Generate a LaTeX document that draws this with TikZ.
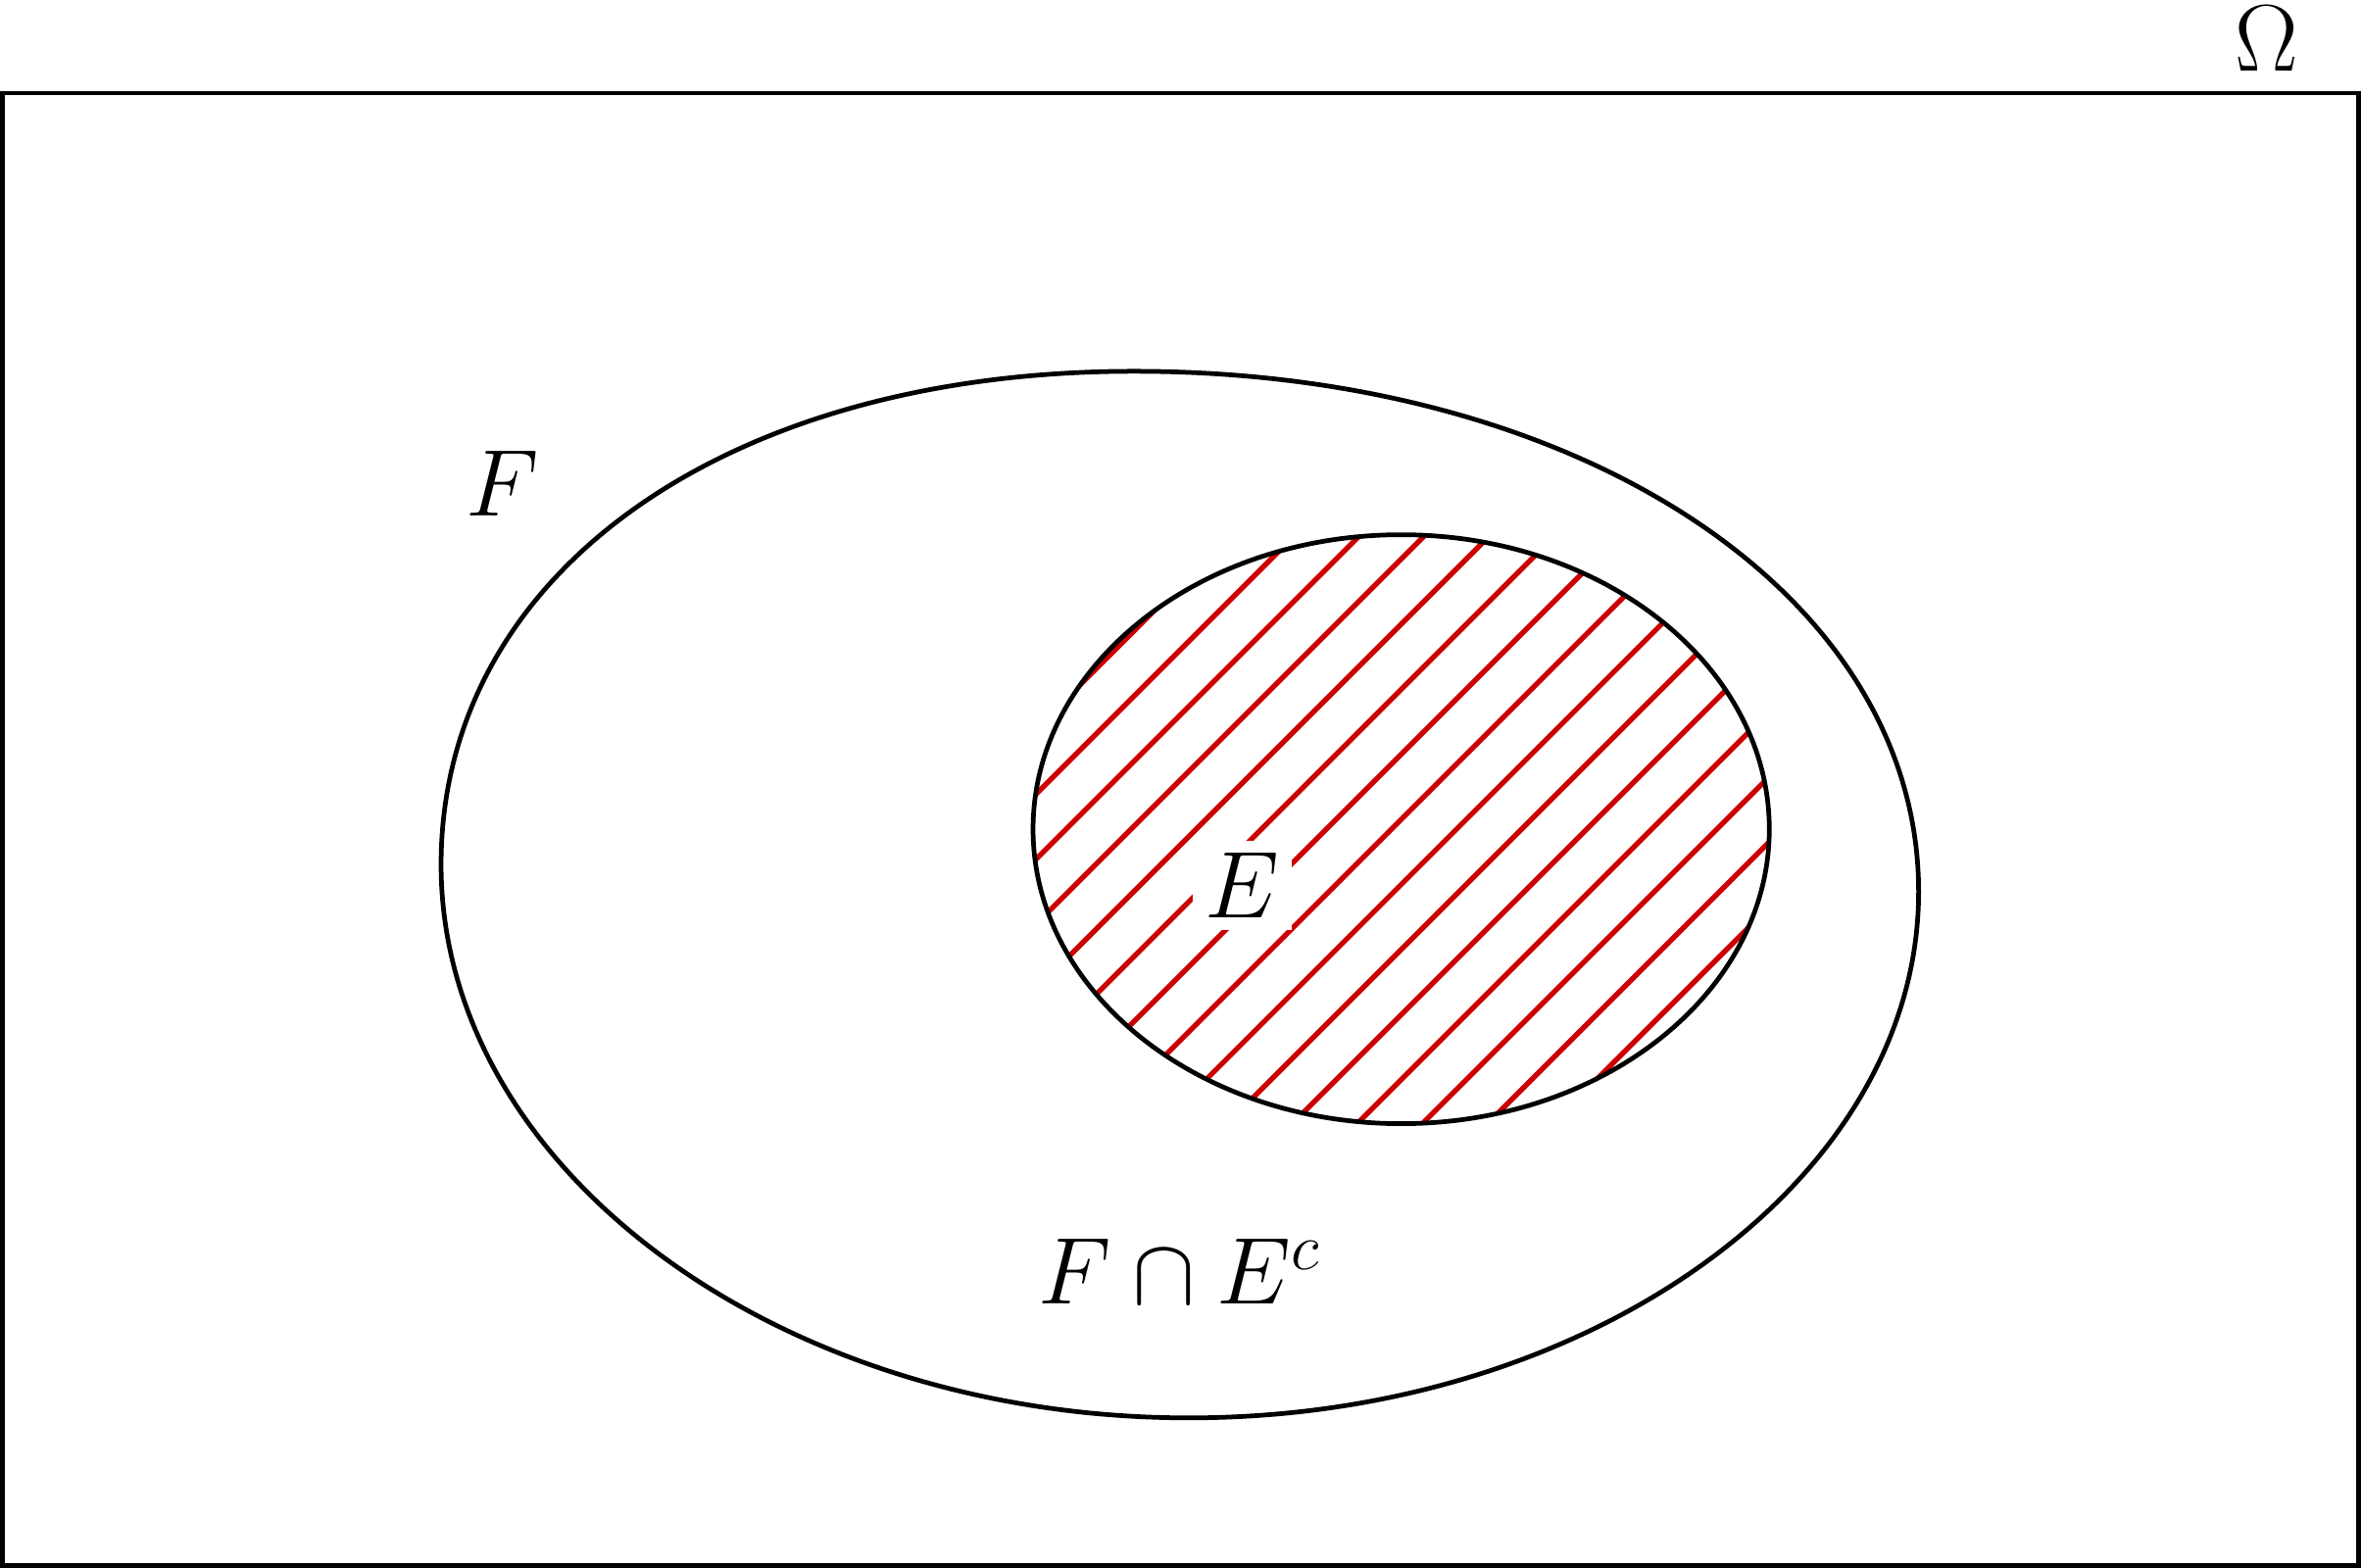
\documentclass[tikz,border=0pt]{standalone}
\usepackage{amsmath, amssymb}
\usepackage{tikz}
\usetikzlibrary{positioning}
\definecolor{rayado}{RGB}{204, 0, 0}

\begin{document}
\begin{tikzpicture}[
        conj/.style={draw=black, line width=0.45pt},
        rayas/.style={draw=rayado, line width=0.5pt},
        etiq/.style={anchor=base, inner sep=0pt, font=\LARGE, scale=0.53}]

        \useasboundingbox (-0.0077,-0.0083) rectangle (8.009,5.316);

        % Espacio muestral
        \draw[conj] (0,0) rectangle (8,5);
        \node[etiq] (omega) at (7.69,5.074) {$\Omega$};

        % Rayado de E
        \begin{scope}
            \clip (4.75,2.5) ellipse [x radius=1.25, y radius=1];
            \foreach \k in {0,...,14}
                \draw[rayas] ({0.67+0.221*\k},0) -- ++(5,5);
        \end{scope}

        % Conjuntos F y E
        \draw[conj] (1.49,2.38) .. controls (1.49,3.368) and (2.455,4.055) .. (3.843,4.055)
            .. controls (5.361,4.055) and (6.507,3.295) .. (6.507,2.288)
            .. controls (6.507,1.305) and (5.392,0.501) .. (4.029,0.501)
            .. controls (2.633,0.501) and (1.49,1.347) .. cycle;
        \draw[conj] (4.75,2.5) ellipse [x radius=1.25, y radius=1];

        % Etiquetas
        \node[etiq, fill=white, inner sep=2.2pt] (labE) at (4.21,2.198) {$E$};
        \node[etiq] (labF) at (1.70,3.562) {$F$};
        \node[etiq] (labFE) at (4.0,0.888) {$F \cap E^c$};
    \end{tikzpicture}
\end{document}
